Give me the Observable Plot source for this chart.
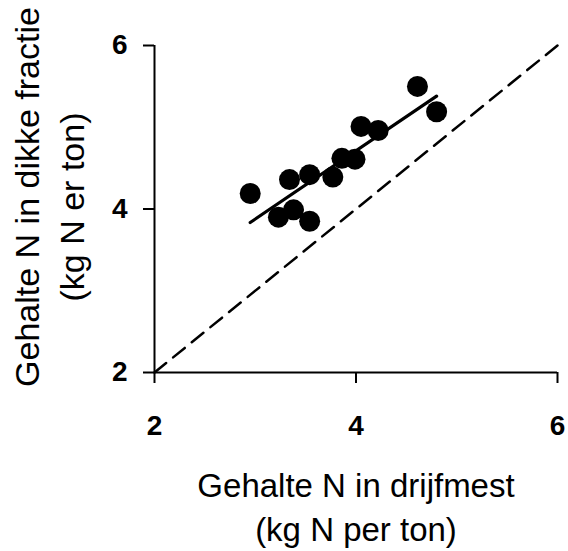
<!DOCTYPE html>
<html>
<head>
<meta charset="utf-8">
<script src="https://cdn.jsdelivr.net/npm/d3@7"></script>
<script src="https://cdn.jsdelivr.net/npm/@observablehq/plot@0.6"></script>
<style>
  html, body { margin: 0; padding: 0; background: #fff; }
</style>
</head>
<body>
<div id="chart"></div>
<script>
// Data
const drijfmest = [2.95, 3.34, 3.54, 3.23, 3.38, 3.54, 3.77, 3.86, 3.99, 4.05, 4.22, 4.61, 4.80];
const dikkeFractie = [4.19, 4.36, 4.42, 3.90, 3.99, 3.85, 4.39, 4.62, 4.61, 5.01, 4.96, 5.50, 5.19];
const oneToOne = [2, 6];
const xTicks = [2, 4, 6];
const yTicks = [2, 4, 6];
const xTitle1 = "Gehalte N in drijfmest";
const xTitle2 = "(kg N per ton)";
const yTitle1 = "Gehalte N in dikke fractie";
const yTitle2 = "(kg N er ton)";

const points = drijfmest.map((x, i) => ({x, y: dikkeFractie[i]}));
const refLine = oneToOne.map(v => ({x: v, y: v}));

const chart = Plot.plot({
  width: 568,
  height: 551,
  marginLeft: 154,
  marginRight: 11,
  marginTop: 45,
  marginBottom: 179,
  style: {fontFamily: "'Liberation Sans', Arial, sans-serif", background: "#fff", color: "#000"},
  x: {domain: [2, 6], label: null},
  y: {domain: [2, 6], label: null},
  marks: [
    Plot.line(refLine, {x: "x", y: "y", stroke: "black", strokeWidth: 2.5, strokeDasharray: "15,9"}),
    Plot.dot(points, {x: "x", y: "y", r: 10.5, fill: "black", stroke: "none"}),
    Plot.linearRegressionY(points, {x: "x", y: "y", ci: 0, stroke: "black", strokeWidth: 3.2}),
    Plot.ruleX([2], {stroke: "black", strokeWidth: 2}),
    Plot.ruleY([2], {stroke: "black", strokeWidth: 2}),
    Plot.axisX(xTicks, {tickSize: 11, tickPadding: 32, strokeWidth: 2, fontSize: 28, fontWeight: "bold", label: null, tickFormat: d => d}),
    Plot.axisY(yTicks, {tickSize: 11, tickPadding: 16, strokeWidth: 2, fontSize: 28, fontWeight: "bold", label: null, tickFormat: d => d}),
    Plot.text([xTitle1], {text: d => d, frameAnchor: "bottom", textAnchor: "middle", lineAnchor: "bottom", dy: 124, fontSize: 33}),
    Plot.text([xTitle2], {text: d => d, frameAnchor: "bottom", textAnchor: "middle", lineAnchor: "bottom", dy: 168, fontSize: 33}),
    Plot.text([yTitle1], {text: d => d, frameAnchor: "left", textAnchor: "middle", rotate: -90, lineAnchor: "bottom", dx: -116, dy: -12, fontSize: 34}),
    Plot.text([yTitle2], {text: d => d, frameAnchor: "left", textAnchor: "middle", rotate: -90, lineAnchor: "bottom", dx: -71, dy: -2, fontSize: 34})
  ]
});
document.getElementById("chart").appendChild(chart);
</script>
</body>
</html>
